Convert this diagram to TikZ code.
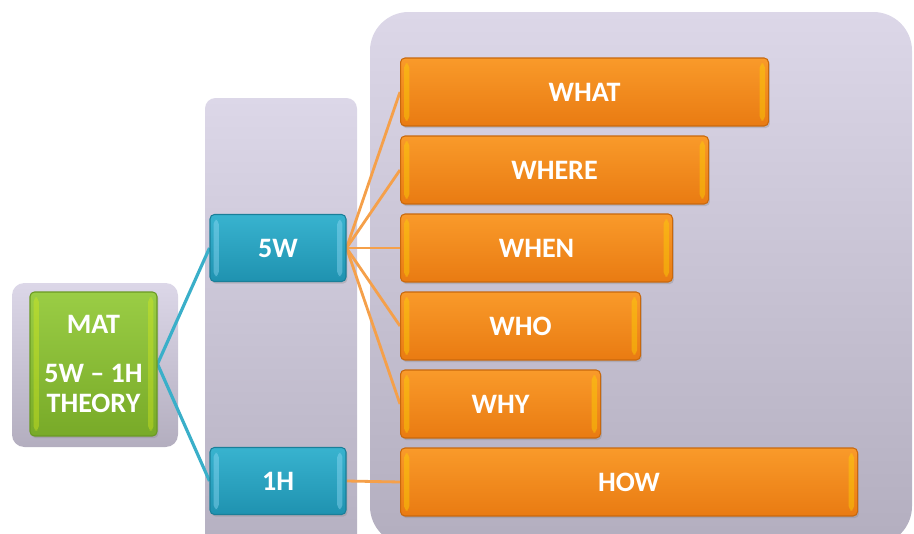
\documentclass[tikz,border=0pt]{standalone}
\usepackage{fontspec}
\setmainfont{Carlito}
\usetikzlibrary{shadows}
\definecolor{panelTop}{HTML}{DCD7E8}
\definecolor{panelBot}{HTML}{B3AEBF}
\definecolor{greenTop}{HTML}{9ACD45}
\definecolor{greenBot}{HTML}{78AA28}
\definecolor{greenEdge}{HTML}{6A9A22}
\definecolor{blueTop}{HTML}{38B3CF}
\definecolor{blueBot}{HTML}{1F92B0}
\definecolor{blueEdge}{HTML}{1A7F99}
\definecolor{orangeTop}{HTML}{F99A2A}
\definecolor{orangeBot}{HTML}{E97B12}
\definecolor{orangeEdge}{HTML}{C9680C}
\definecolor{blueWire}{HTML}{3AAFC9}
\definecolor{orangeWire}{HTML}{F5A04A}
\pgfdeclarelayer{panel}
\pgfdeclarelayer{wire}
\pgfsetlayers{panel,wire,main}
\tikzset{
  panel/.style={top color=panelTop,bottom color=panelBot},
  bevel/.style={path picture={
    \fill[#1] ([shift={(2pt,-3pt)}]path picture bounding box.north west)
      rectangle ([shift={(5pt,3pt)}]path picture bounding box.south west);
    \fill[#1] ([shift={(-5pt,-3pt)}]path picture bounding box.north east)
      rectangle ([shift={(-2pt,3pt)}]path picture bounding box.south east);}},
  box/.style={rounded corners=2.5pt,text=white,inner sep=0pt,line width=.6pt,
    font=\bfseries\fontsize{16}{17}\selectfont,
    drop shadow={opacity=.3,shadow xshift=.8pt,shadow yshift=-1.2pt}},
  theory/.style={box,top color=greenTop,bottom color=greenBot,draw=greenEdge,
    bevel={greenTop!40!yellow,opacity=.4},align=center,
    minimum width=2.54cm,minimum height=2.88cm},
  topic/.style={box,top color=blueTop,bottom color=blueBot,draw=blueEdge,
    bevel={cyan!40!white,opacity=.4},minimum width=2.72cm,minimum height=1.34cm},
  question/.style={box,top color=orangeTop,bottom color=orangeBot,draw=orangeEdge,
    bevel={yellow!70!orange,opacity=.45},minimum height=1.36cm,anchor=west},
  blueline/.style={draw=blueWire,line width=1.8pt},
  orangeline/.style={draw=orangeWire,line width=1.6pt}
}
\begin{document}
\begin{tikzpicture}[x=0.02cm,y=-0.02cm]
  \useasboundingbox (0,0) rectangle (914,534);
  % grouping panels
  \begin{pgfonlayer}{panel}
    \begin{scope}
      \clip (0,0) rectangle (914,534);
      \shade[panel,rounded corners=7pt] (12,283) rectangle (178,447);
      \shade[panel,rounded corners=6pt] (205,98) rectangle (357,570);
      \shade[panel,rounded corners=22pt] (370,12) rectangle (912,545);
    \end{scope}
  \end{pgfonlayer}
  % nodes
  \node[theory] (mat) at (93.5,364) {MAT\\[11pt]5W -- 1H\\THEORY};
  \node[topic] (fivew) at (278,248) {5W};
  \node[topic] (oneh) at (278,481) {1H};
  \foreach \name/\word/\len/\y in {what/WHAT/368/92,where/WHERE/308/170,
      when/WHEN/272/248,who/WHO/240/326,why/WHY/200/404}
    \node[question,minimum width=\len*0.02cm] (\name) at (400,\y) {\word};
  \node[question,minimum width=457*0.02cm] (how) at (400,482) {HOW};
  % connectors
  \begin{pgfonlayer}{wire}
    \draw[blueline] (mat.east) -- (fivew.west);
    \draw[blueline] (mat.east) -- (oneh.west);
    \foreach \name in {what,where,when,who,why}
      \draw[orangeline] (fivew.east) -- (\name.west);
    \draw[orangeline] (oneh.east) -- (how.west);
  \end{pgfonlayer}
\end{tikzpicture}
\end{document}
